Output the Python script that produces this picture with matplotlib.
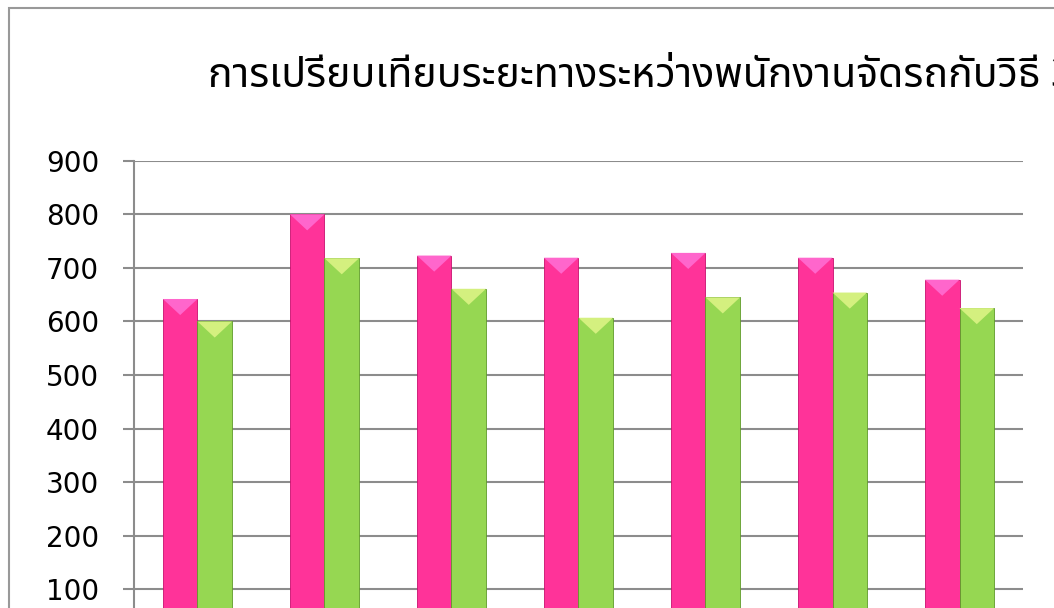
import matplotlib
matplotlib.use("Agg")
import matplotlib.pyplot as plt
from matplotlib import font_manager
from matplotlib.patches import Polygon, Rectangle

# data
groups = ["1", "2", "3", "4", "5", "6", "7"]
staff = [642, 800, 723, 719, 728, 719, 678]      # pink series
method3 = [600, 718, 661, 607, 645, 654, 625]    # green series
yticks = [100, 200, 300, 400, 500, 600, 700, 800, 900]
title = "การเปรียบเทียบระยะทางระหว่างพนักงานจัดรถกับวิธี 3"

# pick a font that has Thai glyphs
names = {f.name for f in font_manager.fontManager.ttflist}
thai_font = "DejaVu Sans"
for cand in ["Noto Sans Thai", "Sarabun", "Anuphan", "Bai Jamjuree"]:
    if cand in names:
        thai_font = cand
        break

PINK = "#ff3399"
PINK_TOP = "#ff66cc"
GREEN = "#96d752"
GREEN_TOP = "#d4f07f"
GRID = "#8c8c8c"


def bevel(ax, bars, color):
    # light triangle on top of each bar, like the Excel bevel style
    for b in bars:
        x0, w, h = b.get_x(), b.get_width(), b.get_height()
        tri = Polygon([(x0, h), (x0 + w, h), (x0 + w / 2, h - 30)],
                      closed=True, facecolor=color, edgecolor="none", zorder=3)
        ax.add_patch(tri)


def plot_chart(save_path="out.png"):
    fig = plt.figure(figsize=(10.54, 6.08), dpi=100)
    # axes runs past the bottom edge, the reference is cropped there
    ax = fig.add_axes([0.1271, -0.0577, 0.8435, 0.7934])

    x = list(range(len(groups)))
    w = 0.272
    b1 = ax.bar([i + 0.5 - w / 2 for i in x], staff, width=w, color=PINK,
                edgecolor="#c8106e", linewidth=0.6, zorder=2)
    b2 = ax.bar([i + 0.5 + w / 2 for i in x], method3, width=w, color=GREEN,
                edgecolor="#5f9a2a", linewidth=0.6, zorder=2)
    bevel(ax, b1, PINK_TOP)
    bevel(ax, b2, GREEN_TOP)

    ax.set_xlim(0, len(groups))
    ax.set_ylim(0, 900)
    ax.set_yticks(yticks)
    ax.set_yticklabels([str(v) for v in yticks], fontsize=20, family="DejaVu Sans")
    ax.tick_params(axis="y", length=8, width=1.5, color=GRID, pad=17)
    ax.tick_params(axis="x", length=0, labelbottom=False)
    ax.grid(axis="y", color=GRID, linewidth=1.5, zorder=1)
    ax.set_axisbelow(True)
    for s in ["top", "right", "bottom"]:
        ax.spines[s].set_visible(False)
    ax.spines["left"].set_color(GRID)
    ax.spines["left"].set_linewidth(1.5)

    # outer chart border (cropped on the right and bottom)
    fig.patches.append(Rectangle((9 / 1054, -0.1), 1.2, (608 - 8) / 608 + 0.1,
                                 transform=fig.transFigure, fill=False,
                                 edgecolor="#999999", linewidth=1.5))

    fig.text(208 / 1054, 1 - 76 / 608, title, fontsize=29.5, family=thai_font,
             ha="left", va="center")

    fig.savefig(save_path)
    plt.close(fig)


if __name__ == "__main__":
    plot_chart()
